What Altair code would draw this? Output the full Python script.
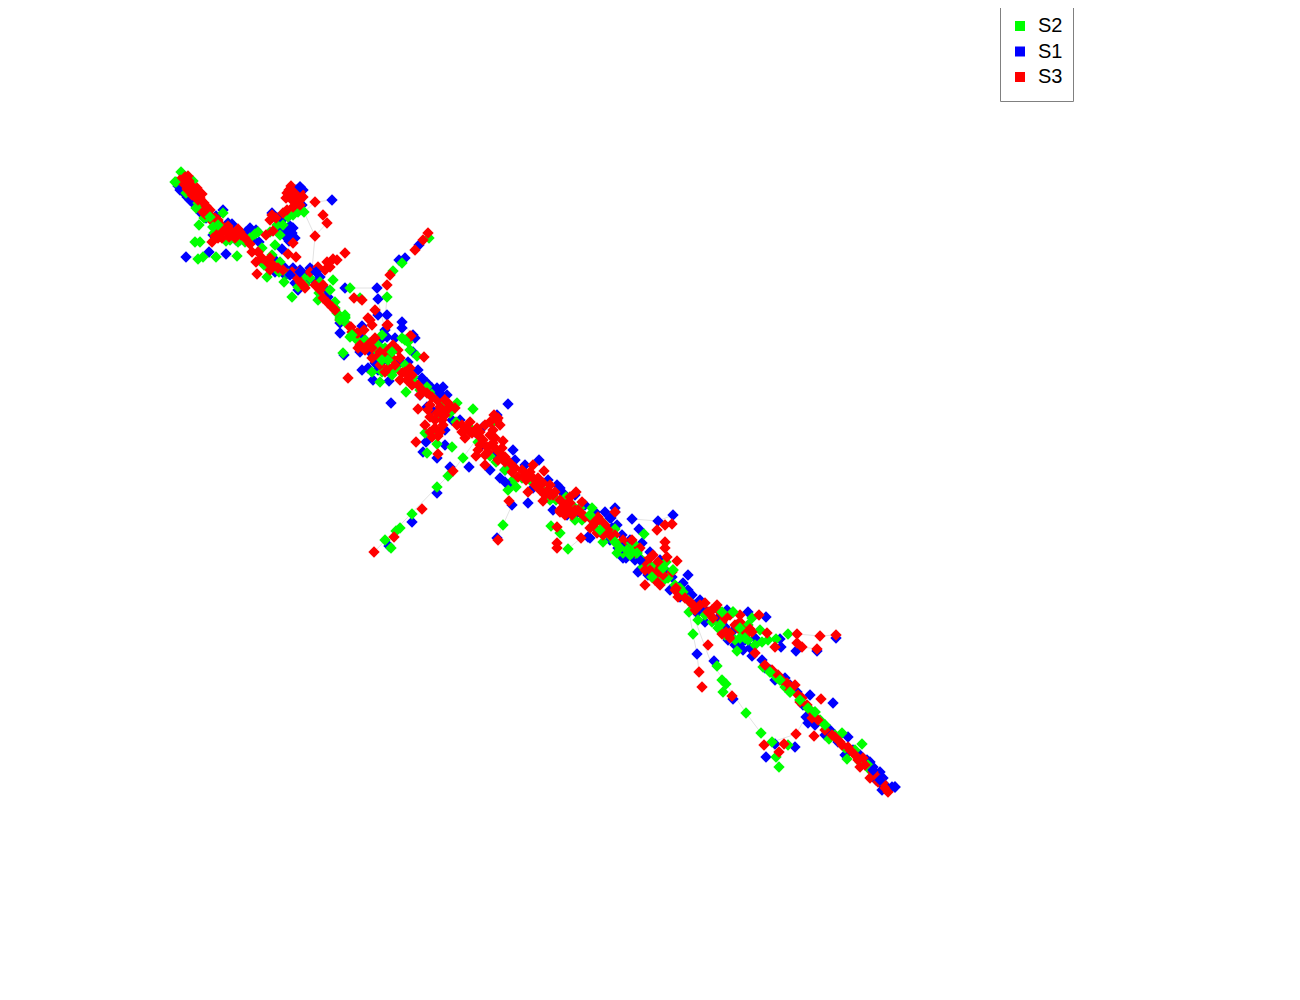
import altair as alt
import pandas as pd

S1 = [(186,257),(209,252),(226,254),(332,200),(300,187),(272,213),(288,228),(292,233),(287,238),(293,228),(282,220),(282,249),(250,228),(259,242),(228,223),(223,210),(180,190),(187,197),(193,203),(213,235),(262,262),(285,275),(293,268),(310,268),(320,277),(298,290),(328,297),(345,288),(377,288),(378,299),(405,258),(399,260),(419,245),(378,315),(387,315),(362,326),(402,322),(402,328),(340,323),(340,333),(413,335),(387,337),
(344,355),(415,338),(413,352),(363,338),(362,370),(368,368),(375,363),(373,380),(389,381),(418,370),(427,383),(443,387),(447,395),(391,403),(427,407),(508,404),(497,415),(483,427),(445,430),(426,442),(445,445),(423,452),(437,458),(450,467),(469,467),(437,493),(412,522),(389,546),(497,538),(512,505),(528,503),(500,478),(512,483),(533,488),(513,450),(539,460),(557,485),(563,493),(553,510),(567,515),(588,537),(611,518),(615,508),
(632,519),(658,521),(673,515),(615,512),(610,518),(639,529),(590,538),(617,525),(623,558),(643,562),(638,572),(632,547),(642,543),(688,575),(683,583),(672,577),(692,595),(700,600),(697,613),(705,622),(727,610),(748,612),(766,617),(737,625),(725,627),(755,638),(740,647),(743,650),(752,656),(762,660),(780,639),(781,647),(796,651),(817,651),(836,638),(697,654),(714,661),(733,699),(770,670),(785,678),(797,692),(810,695),(833,703),(806,717),(808,723),(830,730),(848,737),(775,744),(795,747),(766,757),(853,750),(873,767),(880,772),(883,778),(880,782),(895,787),(892,787),(867,760),
(178,186),(184,193),(190,200),(196,205),(201,213),(206,218),(216,216),(221,232),(232,224),(240,240),(246,232),(256,230),(253,240),(236,240),(296,190),(303,190),(279,226),(284,233),(290,226),(295,238),(289,241),(285,231),(278,218),(302,205),
(275,260),(285,268),(296,275),(300,270),(305,275),(312,270),(316,282),(322,290),(305,283),(295,283),(332,305),(326,290),(290,272),(275,272),
(360,352),(370,352),(378,370),(384,360),(392,370),(400,362),(408,362),(380,340),(385,330),(395,338),(412,378),(422,378),(432,388),(438,393),(420,395),(432,410),(440,395),
(452,420),(460,420),(475,432),(482,445),(495,455),(490,470),(505,470),(515,460),(525,465),
(548,480),(560,488),(575,495),(585,505),(595,512),(605,512),(612,528),(622,535),(630,540),(638,550),(626,558),(635,560),(610,540),(618,548),(575,515),(640,570),
(660,560),(650,552),(648,575),(670,590),(680,597),(688,590),(695,605),(665,570),(710,612),(718,618),(732,632),(742,642),(735,645),(750,648),(745,640),(728,640),(705,610),
(775,680),(790,685),(803,705),(815,725),(825,735),(838,742),(845,755),(860,755),(870,762),(878,775),(885,785),(876,780),(765,668),(882,790)]
S2 = [(181,172),(176,182),(193,181),(198,203),(199,225),(195,242),(200,242),(198,259),(203,257),(216,257),(237,256),(275,245),(267,277),(284,282),(292,297),(304,212),(293,215),(291,195),(277,225),(258,232),(238,242),(213,227),(218,225),(210,217),(223,213),(262,248),(280,262),(279,272),(303,277),(310,278),(319,293),(333,280),(335,302),(337,313),(345,315),(350,288),(360,298),(387,297),(393,271),(402,263),(429,238),(382,335),(350,337),(402,338),
(343,353),(345,317),(352,335),(408,342),(417,356),(388,360),(380,382),(406,392),(415,383),(427,387),(457,403),(473,409),(443,409),(425,433),(437,444),(452,447),(427,453),(463,458),(448,476),(437,487),(412,514),(400,528),(396,531),(385,540),(391,548),(493,422),(496,462),(508,490),(516,487),(503,525),(551,526),(560,533),(568,549),(603,542),(617,553),(592,508),(603,523),(615,529),(582,520),(550,500),
(644,534),(627,550),(637,553),(663,568),(673,570),(665,579),(652,577),(683,592),(698,620),(733,612),(752,618),(760,630),(740,638),(745,638),(788,634),(776,639),(762,642),(737,651),(763,667),(777,678),(785,687),(815,712),(825,725),(842,733),(829,739),(862,744),(847,759),(868,765),(693,634),(689,612),(717,666),(722,680),(726,684),(723,692),(746,713),(761,733),(772,742),(776,757),(779,767),(788,745),
(184,176),(190,180),(186,193),(196,208),(200,207),(207,217),(204,218),(216,222),(222,228),(214,233),(230,240),(226,241),(245,242),(250,238),(255,234),(298,212),(288,217),(283,225),(270,232),(280,235),
(272,255),(264,265),(288,274),(305,285),(298,287),(320,282),(318,300),(330,290),(340,318),(345,322),(335,308),
(357,340),(365,340),(376,350),(390,352),(396,368),(405,365),(382,372),(372,372),(392,375),(413,377),(420,390),(434,392),(440,402),(378,345),(410,350),(385,348),
(440,416),(450,413),(456,422),(470,428),(478,442),(490,456),(505,470),(510,468),(513,480),(522,478),(438,432),
(530,480),(545,492),(556,500),(566,497),(572,505),(580,508),(590,515),(600,530),(610,536),(615,542),(620,550),(625,545),(630,555),(635,545),(640,558),(623,553),(632,553),(628,548),(575,520),
(650,565),(660,575),(668,578),(675,585),(680,588),(688,600),(643,567),(655,570),(666,562),(705,615),(712,622),(718,628),(725,635),(735,640),(742,632),(748,640),(755,645),(748,625),(768,640),
(770,672),(780,680),(790,692),(800,700),(808,708),(820,720),(835,735),(845,748),(855,750),(860,762),(870,770),(775,675)]
S3 = [(185,177),(183,183),(189,181),(192,186),(187,189),(194,191),(199,192),(202,194),(196,197),(192,195),(204,203),(207,209),(203,212),(210,215),(215,218),(213,222),(220,224),(226,228),(232,232),(229,237),(222,232),(236,234),(241,235),(218,238),(212,242),(238,229),(228,226),
(291,186),(287,193),(286,198),(295,193),(300,192),(303,197),(292,200),(297,203),(293,207),(287,210),(315,202),(323,215),(327,223),(315,236),(272,215),(270,220),(273,231),(266,235),(293,243),(250,244),(252,252),(258,252),(288,254),(296,257),(345,253),(337,260),(333,259),(318,267),(330,267),(325,270),(273,265),(268,263),(278,268),(257,274),(297,278),(303,285),(323,285),(323,298),(332,307),(354,298),(362,300),(387,285),(375,310),(368,318),(372,325),(388,325),(351,327),(357,333),(411,336),(428,233),(423,240),(415,250),(390,275),
(348,378),(358,348),(350,327),(358,333),(370,343),(370,320),(387,325),(410,336),(424,357),(380,352),(388,350),(398,350),(395,365),(402,373),(410,368),(407,380),(385,372),(418,409),(416,442),(438,454),(453,471),(422,509),(394,537),(374,552),(498,540),(509,501),(528,492),(543,501),(557,527),(557,543),(557,548),(581,538),(576,492),(544,471),(533,465),(503,441),(476,456),(485,465),
(427,393),(432,397),(437,400),(443,398),(448,403),(455,408),(430,417),(437,413),(445,415),(443,425),(435,428),(432,437),(457,425),(462,432),(470,422),(477,428),(497,420),(500,425),(493,430),(483,440),(487,447),(493,443),(485,455),(500,453),(505,457),(510,463),(515,468),(522,470),(518,477),(530,472),(533,478),(543,483),(548,490),(553,495),(560,500),(568,503),(582,502),(575,510),(585,517),(595,523),(603,530),(612,537),(598,517),(615,512),
(657,530),(665,525),(672,524),(665,542),(665,548),(677,561),(660,585),(645,585),(678,597),(657,573),(645,570),(623,540),(605,533),(595,528),(578,510),(570,503),(560,512),(640,548),(632,540),(653,555),(658,562),(667,557),(676,588),(693,605),(705,603),(717,605),(720,612),(713,618),(730,615),(740,615),(759,615),(722,634),(730,633),(730,638),(743,630),(750,629),(767,633),(775,647),(797,634),(797,643),(802,647),(820,636),(836,635),(817,649),(708,645),(699,672),(702,687),(732,696),(755,653),(772,670),(787,683),(795,685),(802,698),(807,705),(821,699),(818,720),(813,713),(796,734),(814,736),(764,745),(784,744),(779,752),(835,737),(840,742),(848,747),(863,758),(860,767),(870,778),(883,783),(888,792),
(180,180),(188,176),(186,185),(191,190),(197,188),(200,198),(198,200),(206,206),(210,210),(205,214),(212,218),(218,220),(224,230),(216,228),(228,233),(235,238),(240,232),(222,238),(215,236),(245,238),(289,190),(292,190),(297,196),(299,201),(290,197),(295,200),(300,205),(276,218),(283,213),
(262,258),(256,262),(270,270),(283,270),(292,272),(300,282),(305,288),(310,272),(315,285),(320,290),(328,303),(335,310),(270,258),(299,272),(327,262),(340,320),
(365,350),(372,348),(378,356),(385,355),(392,358),(400,358),(372,358),(368,345),(380,365),(388,368),(400,380),(412,375),(418,385),(422,390),(412,385),(405,372),(393,345),(360,345),(352,332),(364,330),(375,338),(420,395),(430,405),(440,407),(428,410),
(440,412),(450,406),(442,420),(440,432),(447,410),(435,420),(425,425),(430,432),(438,436),(462,425),(467,428),(472,433),(478,435),(465,438),(480,432),(490,435),(495,438),(480,445),(488,452),(495,448),(502,448),(498,460),(505,462),(512,472),(526,480),(538,478),(490,422),(494,415),(498,418),(485,425),(470,432),(478,450),
(525,476),(535,485),(540,490),(550,485),(555,492),(545,495),(560,510),(565,505),(570,510),(565,515),(572,515),(580,512),(583,515),(590,518),(590,528),(600,520),(605,525),(597,533),(608,530),(615,535),(620,545),(625,548),(635,552),(603,535),(550,495),(570,497),
(650,558),(660,568),(650,570),(645,562),(672,572),(663,575),(655,580),(675,590),(685,598),(690,602),(695,610),(700,605),(708,612),(712,610),(722,622),(725,618),(735,625),(738,628),(726,632),(745,636),(740,622),(752,632),
(765,665),(778,675),(782,680),(790,690),(798,695),(800,702),(810,710),(812,718),(825,730),(832,735),(842,745),(850,750),(855,755),(865,765),(873,772),(878,782),(885,788),(875,775),(858,760)]
# marks that sit above the red ones in the reference
S1_TOP = [(290,233),(292,228),(300,187),(440,393),(437,388),(316,272),(300,272),(290,275),(505,482),(640,560),(622,548),(895,787),(880,780),(873,770)]
S2_TOP = [(175,182),(213,227),(218,225),(210,217),(345,318),(352,335),(388,360),(382,360),(392,352),(340,320),(405,340),(620,548),(627,550),(632,552),(637,553),(615,542),(663,568),(652,577),(673,570),(720,625),(740,638),(745,638),(740,628),(825,725),(815,712),(808,708),(800,700),(722,612),(733,612),(590,515),(600,530),(770,672),(780,680),(790,692)]
EDGES = [(315,202),(332,200),(304,212),(315,202),(304,212),(315,236),(315,236),(327,223),(327,223),(323,215),(315,236),(312,270),(186,257),(216,257),(216,257),(237,256),(350,288),(377,288),(377,288),(387,285),(378,299),(387,297),(387,297),(385,320),(374,552),(437,487),(437,487),(453,471),(453,471),(476,440),(497,538),(503,525),(503,525),(512,505),(568,549),(581,538),(689,612),(693,634),(693,634),(697,654),(697,654),(699,672),(692,612),(710,660),(710,660),(746,713),(746,713),(761,733),(772,742),(796,734),(796,734),(806,717),(797,634),(820,636),(820,636),(836,635),(802,647),(817,649),(772,742),(776,757),(776,757),(779,767),(632,519),(658,521),(658,521),(673,515),(402,322),(415,338),(378,300),(385,330)]

SERIES = ["S2", "S1", "S3"]
COLORS = ["#00ff00", "#0000ff", "#ff0000"]

rows = []
for rank, (name, pts) in enumerate((("S1", S1), ("S2", S2), ("S3", S3), ("S1", S1_TOP), ("S2", S2_TOP))):
    rows += [{"x": x, "y": y, "series": name, "rank": rank} for x, y in pts]
points = pd.DataFrame(rows)
edges = pd.DataFrame([{"x": EDGES[i][0], "y": EDGES[i][1], "x2": EDGES[i+1][0], "y2": EDGES[i+1][1]} for i in range(0, len(EDGES), 2)])

xs = alt.Scale(domain=[8, 1292], nice=False, zero=False)
ys = alt.Scale(domain=[8, 992], nice=False, zero=False, reverse=True)

edge_layer = alt.Chart(edges).mark_rule(color="#e2e2e2", strokeWidth=1).encode(
    x=alt.X("x:Q", scale=xs, axis=None), y=alt.Y("y:Q", scale=ys, axis=None), x2="x2:Q", y2="y2:Q")

point_layer = alt.Chart(points).mark_point(shape="diamond", filled=True, opacity=1, size=130, strokeWidth=0).encode(
    x=alt.X("x:Q", scale=xs, axis=None),
    y=alt.Y("y:Q", scale=ys, axis=None),
    color=alt.Color("series:N", scale=alt.Scale(domain=SERIES, range=COLORS),
        legend=alt.Legend(title=" ", titleOrient="bottom", titleFontSize=4, titlePadding=0, orient="none", legendX=992, legendY=-2)),
    order=alt.Order("rank:Q"),
)

chart = alt.layer(edge_layer, point_layer).properties(
    width=1284, height=984, padding=0, autosize=alt.AutoSizeParams(type="none")
).configure_view(stroke=None).configure_legend(
    padding=10, rowPadding=5.5, symbolType="square", symbolSize=100, symbolOpacity=1, symbolStrokeWidth=0,
    labelFont="Liberation Sans", labelFontSize=20, labelColor="#000000", labelOffset=8,
    fillColor="#ffffff", strokeColor="#808080", strokeWidth=1)

chart.save("out.html", embed_options={"renderer": "svg", "actions": False})
